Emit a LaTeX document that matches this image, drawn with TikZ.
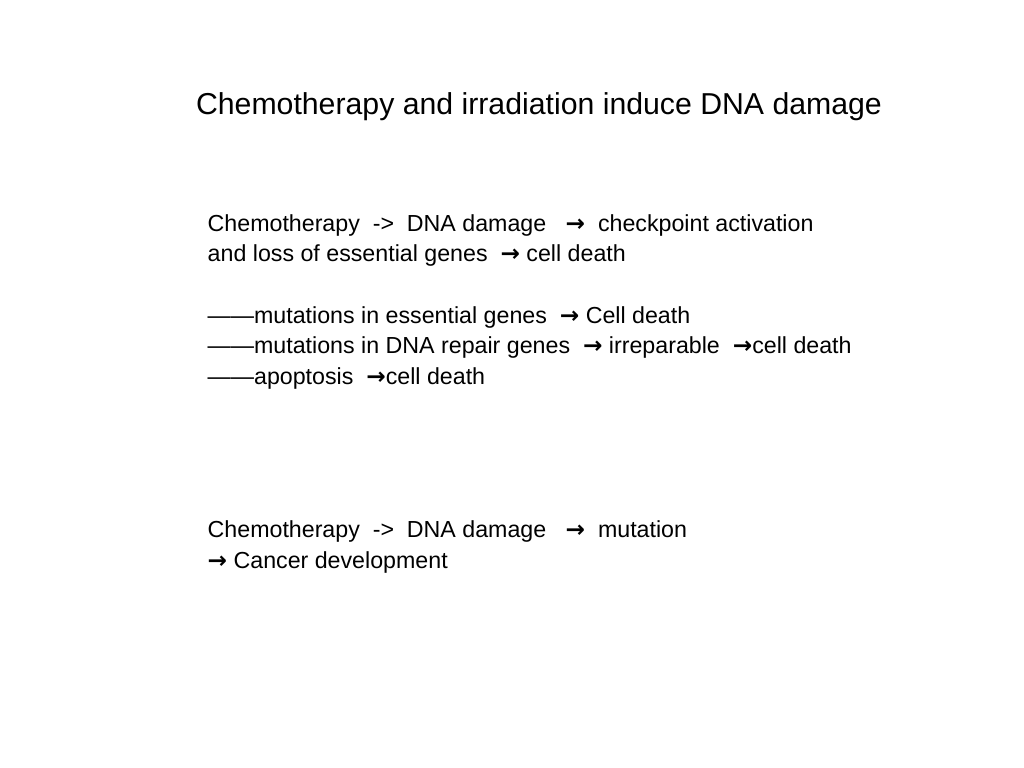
\documentclass[tikz,border=0pt]{standalone}
\usepackage{fontspec}
\setmainfont{Liberation Sans}
\newfontfamily\arrowfont{DejaVu Sans}
\usetikzlibrary{positioning}
\newcommand{\ar}{{\arrowfont\bfseries →}}
\begin{document}
\begin{tikzpicture}[x=0.01cm,y=-0.01cm]
\tikzset{line/.style={anchor=west, inner sep=0pt, font=\fontsize{6.6pt}{8pt}\selectfont}}
\useasboundingbox (0,0) rectangle (1024,768);
\node[inner sep=0pt, font=\fontsize{8.6pt}{10pt}\selectfont] (title) at (539,107) {Chemotherapy and irradiation induce DNA damage};

\node[line] (l1) at (207,226) {Chemotherapy\ \ ->\ \ DNA damage\ \ \ \ar\ \ checkpoint activation};
\node[line] (l2) at (207,256) {and loss of essential genes\ \ \ar\ cell death};
\node[line] (l3) at (207,318) {------mutations in essential genes\ \ \ar\ Cell death};
\node[line] (l4) at (207,348) {------mutations in DNA repair genes\ \ \ar\ irreparable\ \ \ar cell death};
\node[line] (l5) at (207,379) {------apoptosis\ \ \ar cell death};

\node[line] (m1) at (207,532) {Chemotherapy\ \ ->\ \ DNA damage\ \ \ \ar\ \ mutation};
\node[line] (m2) at (207,563) {\ar\ Cancer development};
\end{tikzpicture}
\end{document}
